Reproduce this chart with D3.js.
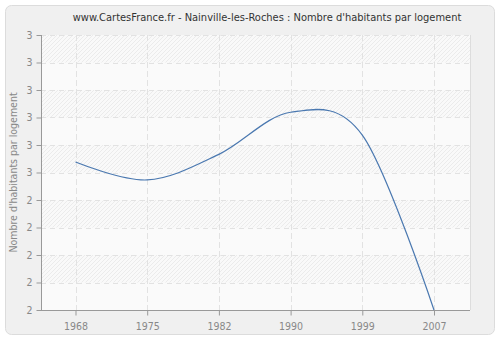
<!DOCTYPE html>
<html>
<head>
<meta charset="utf-8">
<script src="https://cdn.jsdelivr.net/npm/d3@7"></script>
<style>
body { margin: 0; background: #fff; }
text { font-family: "DejaVu Sans Condensed", "DejaVu Sans", sans-serif; }
</style>
</head>
<body>
<svg width="500" height="340"></svg>
<script>
var WIDTH = 500;
var HEIGHT = 340;

var years = ["1968", "1975", "1982", "1990", "1999", "2007"];
var values = [2.538, 2.473, 2.566, 2.719, 2.636, 2.0];
var yTicks = [2.0, 2.1, 2.2, 2.3, 2.4, 2.5, 2.6, 2.7, 2.8, 2.9, 3.0];
var yTickLabels = ["2", "2", "2", "2", "2", "3", "3", "3", "3", "3", "3"];

var plotLeft = 41, plotRight = 470, plotTop = 35, plotBottom = 310;

var svg = d3.select("svg")
    .attr("width", WIDTH)
    .attr("height", HEIGHT);

var defs = svg.append("defs");
var pat = defs.append("pattern")
    .attr("id", "hatch")
    .attr("patternUnits", "userSpaceOnUse")
    .attr("width", 4)
    .attr("height", 4);
pat.append("rect").attr("width", 4).attr("height", 4).attr("fill", "#f9f9f9");
pat.append("path")
    .attr("d", "M-1,1 l2,-2 M0,4 l4,-4 M3,5 l2,-2")
    .attr("stroke", "#ebebeb")
    .attr("stroke-width", 1);

// outer frame
svg.append("rect")
    .attr("x", 5.5).attr("y", 5.5)
    .attr("width", 489).attr("height", 329)
    .attr("rx", 6)
    .attr("fill", "#f0f0f0")
    .attr("stroke", "#dcdcdc");

var x = d3.scalePoint()
    .domain(years)
    .range([75.5, 434])
    .padding(0);

var y = d3.scaleLinear()
    .domain([2, 3])
    .range([plotBottom, plotTop]);

// plot background
svg.append("rect")
    .attr("x", plotLeft).attr("y", plotTop)
    .attr("width", plotRight - plotLeft).attr("height", plotBottom - plotTop)
    .attr("fill", "#fafafa");

// hatched bands
svg.append("g")
    .selectAll("rect")
    .data(d3.range(yTicks.length - 1).filter(function(i) { return i % 2 == 1; }))
    .enter()
    .append("rect")
    .attr("x", plotLeft)
    .attr("width", plotRight - plotLeft)
    .attr("y", function(i) { return y(yTicks[i + 1]); })
    .attr("height", function(i) { return y(yTicks[i]) - y(yTicks[i + 1]); })
    .attr("fill", "url(#hatch)");

// grid
svg.append("g")
    .selectAll("line")
    .data(yTicks)
    .enter()
    .append("line")
    .attr("x1", plotLeft).attr("x2", plotRight)
    .attr("y1", function(d) { return Math.round(y(d)) + 0.5; })
    .attr("y2", function(d) { return Math.round(y(d)) + 0.5; })
    .attr("stroke", "#e2e2e2")
    .attr("stroke-dasharray", "5,4");

svg.append("g")
    .selectAll("line")
    .data(years)
    .enter()
    .append("line")
    .attr("y1", plotTop).attr("y2", plotBottom)
    .attr("x1", function(d) { return Math.round(x(d)) + 0.5; })
    .attr("x2", function(d) { return Math.round(x(d)) + 0.5; })
    .attr("stroke", "#e2e2e2")
    .attr("stroke-dasharray", "6,3");

// right edge
svg.append("line")
    .attr("x1", plotRight + 0.5).attr("x2", plotRight + 0.5)
    .attr("y1", plotTop).attr("y2", plotBottom)
    .attr("stroke", "#dddddd");

// axes
var yAxis = d3.axisLeft(y)
    .tickValues(yTicks)
    .tickSize(5)
    .tickFormat(function(d, i) { return yTickLabels[i]; });

var xAxis = d3.axisBottom(x)
    .tickSize(5);

var gy = svg.append("g")
    .attr("transform", "translate(" + (plotLeft + 0.5) + ",0)")
    .call(yAxis);
var gx = svg.append("g")
    .attr("transform", "translate(0," + (plotBottom + 0.5) + ")")
    .call(xAxis);

gx.select(".domain").attr("d", "M" + plotLeft + ",0H" + plotRight);
gy.select(".domain").attr("d", "M0," + plotTop + "V" + plotBottom);

[gx, gy].forEach(function(g) {
    g.select(".domain").attr("stroke", "#999");
    g.selectAll(".tick line").attr("stroke", "#999");
    g.selectAll(".tick text")
        .attr("fill", "#888")
        .style("font-size", "10.5px")
        .style("font-family", "DejaVu Sans Condensed, DejaVu Sans, sans-serif");
});
gx.selectAll(".tick text").attr("dy", "1.1em");
gy.selectAll(".tick text").attr("x", -9);

// line
var line = d3.line()
    .x(function(d, i) { return x(years[i]); })
    .y(function(d) { return y(d); })
    .curve(d3.curveCardinal.tension(0));

svg.append("path")
    .datum(values)
    .attr("d", line)
    .attr("fill", "none")
    .attr("stroke", "#4a78b0")
    .attr("stroke-width", 1.2);

// title
svg.append("text")
    .attr("x", 267)
    .attr("y", 21)
    .attr("text-anchor", "middle")
    .attr("fill", "#333")
    .style("font-size", "11px")
    .text("www.CartesFrance.fr - Nainville-les-Roches : Nombre d'habitants par logement");

// y label
svg.append("text")
    .attr("transform", "translate(17," + ((plotTop + plotBottom) / 2) + ") rotate(-90)")
    .attr("text-anchor", "middle")
    .attr("fill", "#888")
    .style("font-size", "10.5px")
    .text("Nombre d'habitants par logement");
</script>
</body>
</html>
